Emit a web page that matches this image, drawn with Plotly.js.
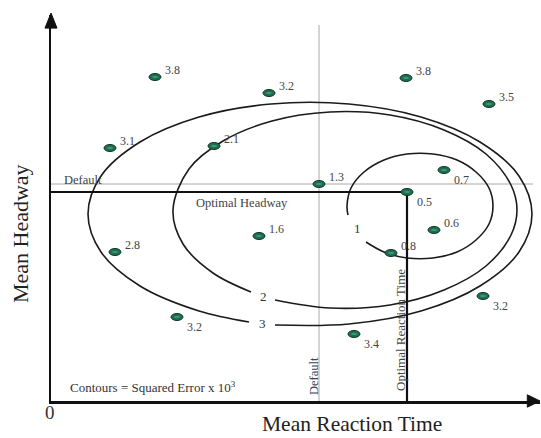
<!DOCTYPE html>
<html>
<head>
<meta charset="utf-8">
<script src="https://cdn.plot.ly/plotly-3.0.1.min.js"></script>
<style>
  html, body { margin: 0; padding: 0; background: #fff; }
  #chart { width: 541px; height: 438px; }
</style>
</head>
<body>
<div id="chart"></div>
<script>
// Simulation runs: mean reaction time (x) and mean headway (y), in plot units,
// with the squared error of each run.
const runReactionTime = [104, 218, 355, 438, 59, 163, 268, 393, 356, 383, 340, 208, 64, 126, 303, 432];
const runHeadway      = [324, 308, 323, 297, 253, 255, 217, 231, 209, 171, 148, 165, 149, 84, 67, 105];
const runError        = ['3.8', '3.2', '3.8', '3.5', '3.1', '2.1', '1.3', '0.7', '0.5', '0.6', '0.8', '1.6', '2.8', '3.2', '3.4', '3.2'];

// Which run is the default setting and which one is optimal
const defaultRun = 6;
const optimalRun = 8;

// Squared-error contours (levels 1, 2, 3), traced as open curves
const contourLevels = ['1', '2', '3'];
const contour1RT = [315, 333, 356, 382, 406, 425, 438, 442, 438, 425, 406, 382, 356, 333, 313, 300, 296, 297];
const contour1HW = [159, 149, 143, 143, 149, 161, 177, 195, 213, 229, 241, 247, 247, 241, 229, 213, 195, 186];
const contour2RT = [224, 279, 339, 393, 435, 460, 466, 460, 435, 393, 339, 279, 221, 172, 138, 122, 132, 162, 200];
const contour2HW = [101, 93, 96, 111, 135, 166, 191, 216, 247, 271, 286, 289, 280, 260, 232, 191, 157, 128, 109];
const contour3RT = [224, 298, 370, 429, 468, 481, 468, 429, 370, 298, 220, 148, 89, 50, 37, 50, 89, 148, 198];
const contour3HW = [76, 77, 90, 115, 149, 187, 225, 259, 284, 297, 297, 284, 259, 225, 187, 149, 115, 90, 79];

// Runs whose error label sits below-right of the marker instead of above-right
const labelsBelow = [7, 8, 13, 14, 15];

const SERIF = '"Liberation Serif", "DejaVu Serif", serif';
const contours = [[contour1RT, contour1HW], [contour2RT, contour2HW], [contour3RT, contour3HW]];

const traces = contours.map(([xs, ys]) => ({
  type: 'scatter', mode: 'lines', x: xs, y: ys,
  line: { color: '#1b1b1b', width: 1.6, shape: 'spline', smoothing: 1 },
  hoverinfo: 'skip', showlegend: false
}));

const dRT = runReactionTime[defaultRun], dHW = runHeadway[defaultRun];
const oRT = runReactionTime[optimalRun], oHW = runHeadway[optimalRun];

const shapes = [
  // default reference lines (thin grey)
  { type: 'line', xref: 'x', yref: 'y', x0: 0, x1: 482, y0: dHW, y1: dHW,
    line: { color: '#a8a8a8', width: 1 }, layer: 'below' },
  { type: 'line', xref: 'x', yref: 'y', x0: dRT, x1: dRT, y0: 0, y1: 376,
    line: { color: '#a8a8a8', width: 1 }, layer: 'below' },
  // optimal reference lines (heavy black)
  { type: 'line', xref: 'x', yref: 'y', x0: 0, x1: oRT, y0: oHW, y1: oHW,
    line: { color: '#111', width: 2.2 } },
  { type: 'line', xref: 'x', yref: 'y', x0: oRT, x1: oRT, y0: 0, y1: oHW,
    line: { color: '#111', width: 2.2 } },
  // arrow heads at the ends of both axes (paper coordinates)
  { type: 'path', xref: 'paper', yref: 'paper', layer: 'above',
    path: 'M -0.0123,0.966 L 0,1.005 L 0.0123,0.966 Z',
    fillcolor: '#111', line: { color: '#111', width: 1 } },
  { type: 'path', xref: 'paper', yref: 'paper', layer: 'above',
    path: 'M 0.974,0.016 L 1.0,0 L 0.974,-0.016 Z',
    fillcolor: '#111', line: { color: '#111', width: 1 } }
];

// run markers: small flat green ellipses
runReactionTime.forEach((rt, i) => {
  shapes.push({
    type: 'circle', xref: 'x', yref: 'y',
    xsizemode: 'pixel', ysizemode: 'pixel', xanchor: rt, yanchor: runHeadway[i],
    x0: -6, x1: 6, y0: -3.5, y1: 3.5,
    fillcolor: '#1f6e4f', line: { color: '#0c3526', width: 1 }
  });
  shapes.push({
    type: 'circle', xref: 'x', yref: 'y',
    xsizemode: 'pixel', ysizemode: 'pixel', xanchor: rt, yanchor: runHeadway[i],
    x0: -3, x1: 3, y0: -1, y1: 1,
    fillcolor: '#3f9a78', line: { width: 0 }
  });
});

const annotations = [];
const txt = (text, x, y, opts = {}) => annotations.push(Object.assign({
  text, x, y, xref: 'x', yref: 'y', showarrow: false,
  font: { family: SERIF, size: 12.5, color: '#444' }
}, opts));

runError.forEach((lab, i) => {
  const below = labelsBelow.includes(i);
  txt(lab, runReactionTime[i], runHeadway[i], {
    xanchor: 'left', yanchor: 'middle', xshift: 8, yshift: below ? -10 : 7,
    font: { family: SERIF, size: 12, color: '#444' }
  });
});

// contour level labels sit in the gap of each curve
contours.forEach(([xs, ys], k) => {
  txt(contourLevels[k], (xs[0] + xs[xs.length - 1]) / 2, (ys[0] + ys[ys.length - 1]) / 2, {
    font: { family: SERIF, size: 13, color: '#333' }
  });
});

txt('Default', 11, dHW + 4, { xanchor: 'left' });
txt('Optimal Headway', 191, oHW - 11);
txt('Default', dRT - 5, 25, { textangle: -90, font: { family: SERIF, size: 12.5, color: '#3a3f5c' } });
txt('Optimal Reaction Time', oRT - 7, 71, { textangle: -90, font: { family: SERIF, size: 13, color: '#444' } });
txt('Contours = Squared Error x 10<sup>3</sup>', 17, 14, { xanchor: 'left', font: { family: SERIF, size: 13, color: '#333' } });

// axis captions (paper coordinates, outside the plotting area)
const cap = (text, x, y, opts = {}) => annotations.push(Object.assign({
  text, x, y, xref: 'paper', yref: 'paper', showarrow: false,
  xanchor: 'center', yanchor: 'middle',
  font: { family: SERIF, size: 22, color: '#222' }
}, opts));
cap('0', -0.002, -0.031, { font: { family: SERIF, size: 19, color: '#333' } });
cap('Mean Reaction Time', 0.6155, -0.0596, { font: { family: SERIF, size: 21.5, color: '#222' } });
cap('Mean Headway', -0.0634, 0.435, { textangle: -90 });

const axisStyle = {
  showline: true, linecolor: '#111', linewidth: 2.5, mirror: false,
  showgrid: false, zeroline: false, showticklabels: false, ticks: '', fixedrange: true
};

const layout = {
  width: 541, height: 438,
  margin: { l: 51, r: 1, t: 15, b: 37, pad: 0 },
  paper_bgcolor: '#fff', plot_bgcolor: '#fff',
  xaxis: Object.assign({ range: [0, 489] }, axisStyle),
  yaxis: Object.assign({ range: [0, 386] }, axisStyle),
  shapes, annotations, showlegend: false
};

Plotly.newPlot('chart', traces, layout, { displayModeBar: false, staticPlot: true });
</script>
</body>
</html>
